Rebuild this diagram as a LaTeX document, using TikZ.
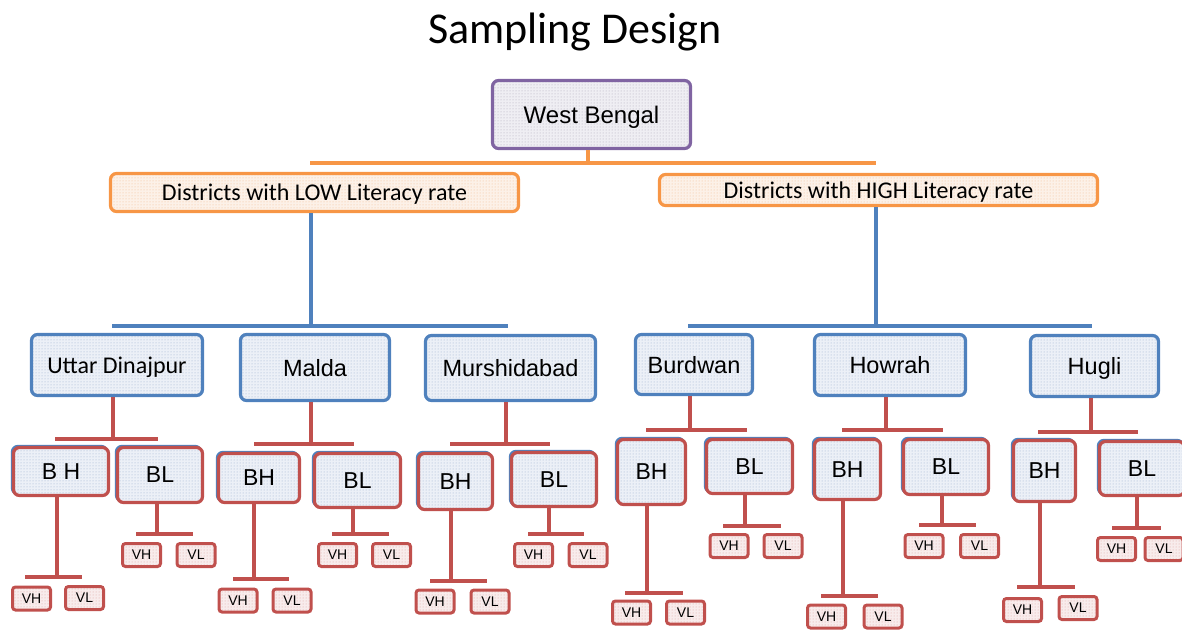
\documentclass[tikz,border=0pt]{standalone}
\usepackage{fontspec}
\setmainfont{Liberation Sans}
\newfontfamily\calibri{Carlito}
\usetikzlibrary{patterns}

\definecolor{purpleline}{HTML}{8064A2}
\definecolor{orangeline}{HTML}{F79646}
\definecolor{blueline}{HTML}{4F81BD}
\definecolor{redline}{HTML}{C0504D}
\definecolor{purpledot}{HTML}{ABA6B8}
\definecolor{orangedot}{HTML}{F2B98E}
\definecolor{bluedot}{HTML}{98ADCC}
\definecolor{reddot}{HTML}{DDA3A1}
\definecolor{purpletint}{HTML}{EFEEF3}
\definecolor{orangetint}{HTML}{FCF1E8}
\definecolor{bluetint}{HTML}{ECF0F7}
\definecolor{redtint}{HTML}{F8ECEC}

\tikzset{
  box/.style={draw, line width=3.2pt, rounded corners=6pt, inner sep=0pt, align=center,
    text depth=0pt, pattern=dots},
  rootbox/.style={box, draw=purpleline, preaction={fill=purpletint}, pattern color=purpledot,
    font=\fontsize{24}{28}\selectfont},
  groupbox/.style={box, draw=orangeline, preaction={fill=orangetint}, pattern color=orangedot,
    font=\calibri\fontsize{24}{28}\selectfont},
  distbox/.style={box, draw=blueline, preaction={fill=bluetint}, pattern color=bluedot,
    font=\fontsize{23.5}{28}\selectfont},
  blockbox/.style={box, draw=redline, pattern color=bluedot,
    preaction={draw=blueline, line width=2.4pt,
      transform canvas={xshift=-1.5pt, yshift=1.5pt}},
    preaction={fill=bluetint},
    font=\fontsize{23}{27}\selectfont},
  villbox/.style={box, line width=3pt, rounded corners=3pt, draw=redline,
    preaction={fill=redtint}, pattern color=reddot, minimum width=38pt, minimum height=23pt,
    font=\fontsize{14}{16}\selectfont},
  orangeconn/.style={draw=orangeline, line width=3.2pt},
  blueconn/.style={draw=blueline, line width=3.2pt},
  redconn/.style={draw=redline, line width=3.4pt},
}

% stem from a parent box down to a horizontal bar
% #1 style, #2 parent, #3 stem x, #4 bar y, #5 bar left, #6 bar right
\newcommand\branch[6]{%
  \coordinate (#2-s) at (#3,#4);
  \coordinate (#2-l) at (#5,#4);
  \coordinate (#2-r) at (#6,#4);
  \draw[#1] (#2-s |- #2.south) -- (#2-s);
  \draw[#1] (#2-l) -- (#2-r);
}

\begin{document}
\begin{tikzpicture}[x=1pt, y=-1pt]
\useasboundingbox (0,0) rectangle (1182,631);
\clip (0,0) rectangle (1182,631);

\node[anchor=base, font=\calibri\fontsize{44}{50}\selectfont] (title) at (575,44) {Sampling Design};

% state and literacy groups
\node[rootbox, minimum width=198pt, minimum height=68pt] (wb) at (591.5,114.5) {West Bengal};
\node[groupbox, minimum width=408pt, minimum height=38pt] (low) at (314.5,192.5) {Districts with LOW Literacy rate};
\node[groupbox, minimum width=438pt, minimum height=31pt] (high) at (878.5,190) {Districts with HIGH Literacy rate};

% districts
\node[distbox, font=\calibri\fontsize{24}{28}\selectfont, minimum width=171pt, minimum height=61pt] (ud) at (117,365) {Uttar Dinajpur};
\node[distbox, minimum width=149pt, minimum height=66pt] (ma) at (315,367.5) {Malda};
\node[distbox, minimum width=170pt, minimum height=65pt] (mu) at (510.5,368) {Murshidabad};
\node[distbox, minimum width=117pt, minimum height=60pt] (bu) at (694,364.5) {Burdwan};
\node[distbox, minimum width=151pt, minimum height=61pt] (ho) at (890,365) {Howrah};
\node[distbox, minimum width=128pt, minimum height=61pt] (hu) at (1094.5,366) {Hugli};

% blocks
\node[blockbox, minimum width=95pt, minimum height=48pt] (udh) at (61,471.5) {B H};
\node[blockbox, minimum width=85pt, minimum height=55pt] (udl) at (160,475) {BL};
\node[blockbox, minimum width=81pt, minimum height=49pt] (mah) at (259,478) {BH};
\node[blockbox, minimum width=86pt, minimum height=54pt] (mal) at (357.5,480.5) {BL};
\node[blockbox, minimum width=74pt, minimum height=56pt] (muh) at (455.5,481.5) {BH};
\node[blockbox, minimum width=85pt, minimum height=54pt] (mul) at (554,479.5) {BL};
\node[blockbox, minimum width=68pt, minimum height=65pt] (buh) at (651.5,472) {BH};
\node[blockbox, minimum width=86pt, minimum height=54pt] (bul) at (749.5,466.5) {BL};
\node[blockbox, minimum width=66pt, minimum height=60pt] (hoh) at (847.5,469.5) {BH};
\node[blockbox, minimum width=85pt, minimum height=55pt] (hol) at (946,467) {BL};
\node[blockbox, minimum width=62pt, minimum height=61pt] (huh) at (1044.5,471) {BH};
\node[blockbox, minimum width=85pt, minimum height=54pt] (hul) at (1142,468.5) {BL};

% villages
\node[villbox] (udhh) at (31.5,598.5) {VH};   \node[villbox] (udhl) at (84.5,598) {VL};
\node[villbox] (udlh) at (141.5,555) {VH};    \node[villbox] (udll) at (196,555) {VL};
\node[villbox] (mahh) at (238,600.5) {VH};    \node[villbox] (mahl) at (292,600.5) {VL};
\node[villbox] (malh) at (337.5,555) {VH};    \node[villbox] (mall) at (391.5,555) {VL};
\node[villbox] (muhh) at (435,601.5) {VH};    \node[villbox] (muhl) at (490,601.5) {VL};
\node[villbox] (mulh) at (533.5,555) {VH};    \node[villbox] (mull) at (588,555) {VL};
\node[villbox] (buhh) at (631.5,612.5) {VH};  \node[villbox] (buhl) at (685.5,612.5) {VL};
\node[villbox] (bulh) at (729,546) {VH};      \node[villbox] (bull) at (783,546) {VL};
\node[villbox] (hohh) at (826.5,616.5) {VH};  \node[villbox] (hohl) at (883,616.5) {VL};
\node[villbox] (holh) at (924,546) {VH};      \node[villbox] (holl) at (979.5,546) {VL};
\node[villbox] (huhh) at (1022.5,610) {VH};   \node[villbox] (huhl) at (1078,608) {VL};
\node[villbox] (hulh) at (1116.5,549) {VH};   \node[villbox] (hull) at (1164,549) {VL};

% connectors
\branch{orangeconn}{wb}{588}{163}{310}{876}
\branch{blueconn}{low}{311}{326}{112}{508}
\branch{blueconn}{high}{876}{326}{688}{1092}

\branch{redconn}{ud}{113}{439}{55}{158}
\branch{redconn}{ma}{311}{444}{254}{354}
\branch{redconn}{mu}{506}{444}{450}{550}
\branch{redconn}{bu}{690}{430}{646}{747}
\branch{redconn}{ho}{886}{430}{842}{943}
\branch{redconn}{hu}{1091}{432}{1038}{1138}

\branch{redconn}{udh}{57}{577}{25}{82}
\branch{redconn}{udl}{157}{534}{136}{193}
\branch{redconn}{mah}{254}{579}{233}{289}
\branch{redconn}{mal}{353}{534}{332}{389}
\branch{redconn}{muh}{451}{581}{430}{487}
\branch{redconn}{mul}{549}{534}{528}{584}
\branch{redconn}{buh}{647}{593}{625}{683}
\branch{redconn}{bul}{745}{526}{723}{781}
\branch{redconn}{hoh}{843}{596}{821}{878}
\branch{redconn}{hol}{942}{525}{919}{976}
\branch{redconn}{huh}{1040}{587}{1017}{1075}
\branch{redconn}{hul}{1137}{528}{1112}{1161}
\end{tikzpicture}
\end{document}
